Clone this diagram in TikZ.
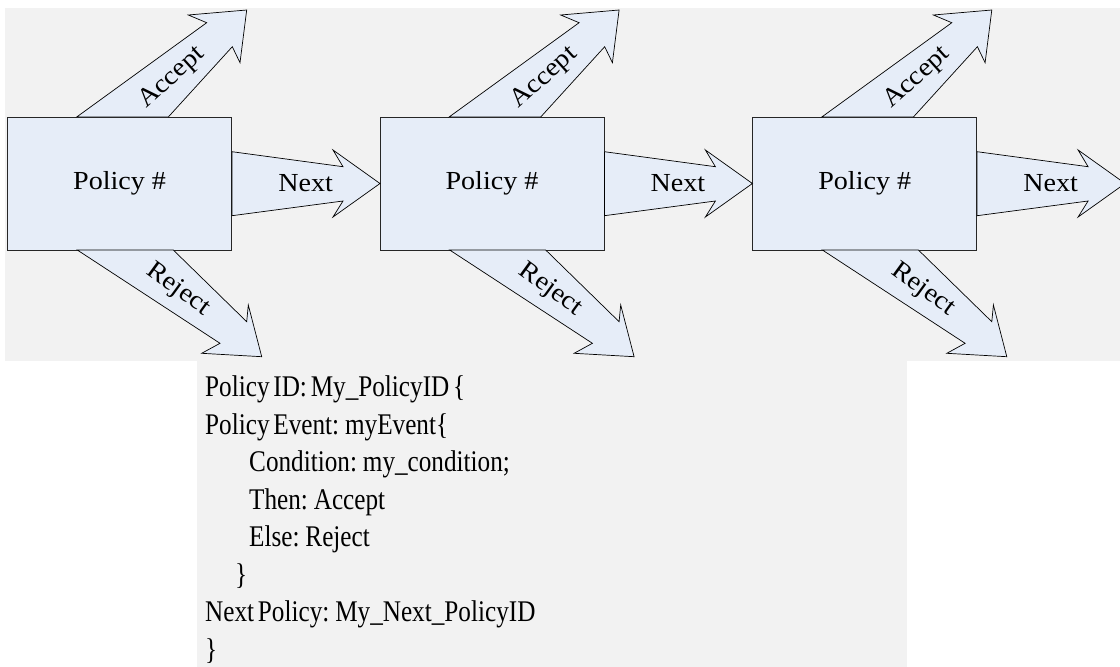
\documentclass[tikz,border=0pt]{standalone}
\usepackage{fontspec}
\setmainfont{Liberation Serif}
\newfontfamily\labelfont[FakeStretch=1.08]{Liberation Serif}
\newfontfamily\codefont[FakeStretch=0.84,WordSpace=0.6]{Liberation Serif}
\definecolor{panelgray}{HTML}{F2F2F2}
\definecolor{boxblue}{HTML}{E6EDF8}
\tikzset{
  policy/.style={draw=black!85, line width=0.8pt, fill=boxblue,
    minimum width=224pt, minimum height=133pt, inner sep=0pt,
    font=\labelfont\fontsize{26}{30}\selectfont},
  blockarrow/.style={draw=black, line width=0.7pt, fill=boxblue, line join=miter},
  arrowlabel/.style={inner sep=0pt, font=\labelfont\fontsize{26}{30}\selectfont},
  codeline/.style={anchor=base west, inner sep=0pt, font=\codefont\fontsize{30}{36}\selectfont}
}
\begin{document}
\begin{tikzpicture}[x=1pt,y=-1pt]
\useasboundingbox (0,0) rectangle (1120,667);
\clip (0,0) rectangle (1120,667);
% grey panels: the chain on top, the policy listing below
\fill[panelgray] (5,8) rectangle (1120,361);
\fill[panelgray] (197,361) rectangle (907,667);

% the three policy boxes
\foreach \i/\cx in {1/119.6, 2/492, 3/864.7}{
  \node[policy] (p\i) at (\cx,183.5) {Policy \#};
}

% outgoing block arrows of every policy box
\foreach \i in {1,2,3}{
  \begin{scope}[shift={(p\i.center)}]
    % Accept, up and to the right
    \draw[blockarrow] (-42.9,-66.5) -- (87.1,-160.8) -- (68.7,-168.5)
      -- (127.1,-173.5) -- (120.4,-120.8) -- (112.7,-136.8) -- (48.7,-66.5) -- cycle;
    \node[arrowlabel, rotate=42] (acc\i) at (52.4,-105.5) {Accept};
    % Reject, down and to the right
    \draw[blockarrow] (-42.3,66.5) -- (100.4,159.8) -- (82.1,169.8)
      -- (142.1,173.2) -- (128.7,121.5) -- (127.1,138.2) -- (53.7,66.5) -- cycle;
    \node[arrowlabel, rotate=-36] (rej\i) at (58.4,106.5) {Reject};
    % Next, to the right
    \draw[blockarrow] (112.4,-31.8) -- (223.4,-16.8) -- (213.4,-33.5)
      -- (260.4,0) -- (213.4,33.5) -- (223.4,17.5) -- (112.4,32.2) -- cycle;
    \node[arrowlabel] (nxt\i) at (186,0) {Next};
  \end{scope}
}

% policy listing
\node[codeline] (c1) at (205,396.7) {Policy ID: My\_PolicyID \{};
\node[codeline] (c2) at (205,434.2) {Policy Event: myEvent\{};
\node[codeline] (c3) at (249,471.7) {Condition: my\_condition;};
\node[codeline] (c4) at (249,509.2) {Then: Accept};
\node[codeline] (c5) at (249,546.7) {Else: Reject};
\node[codeline] (c6) at (235,584.2) {\}};
\node[codeline] (c7) at (205,621.7) {Next Policy: My\_Next\_PolicyID};
\node[codeline] (c8) at (205,659.2) {\}};
\end{tikzpicture}
\end{document}
